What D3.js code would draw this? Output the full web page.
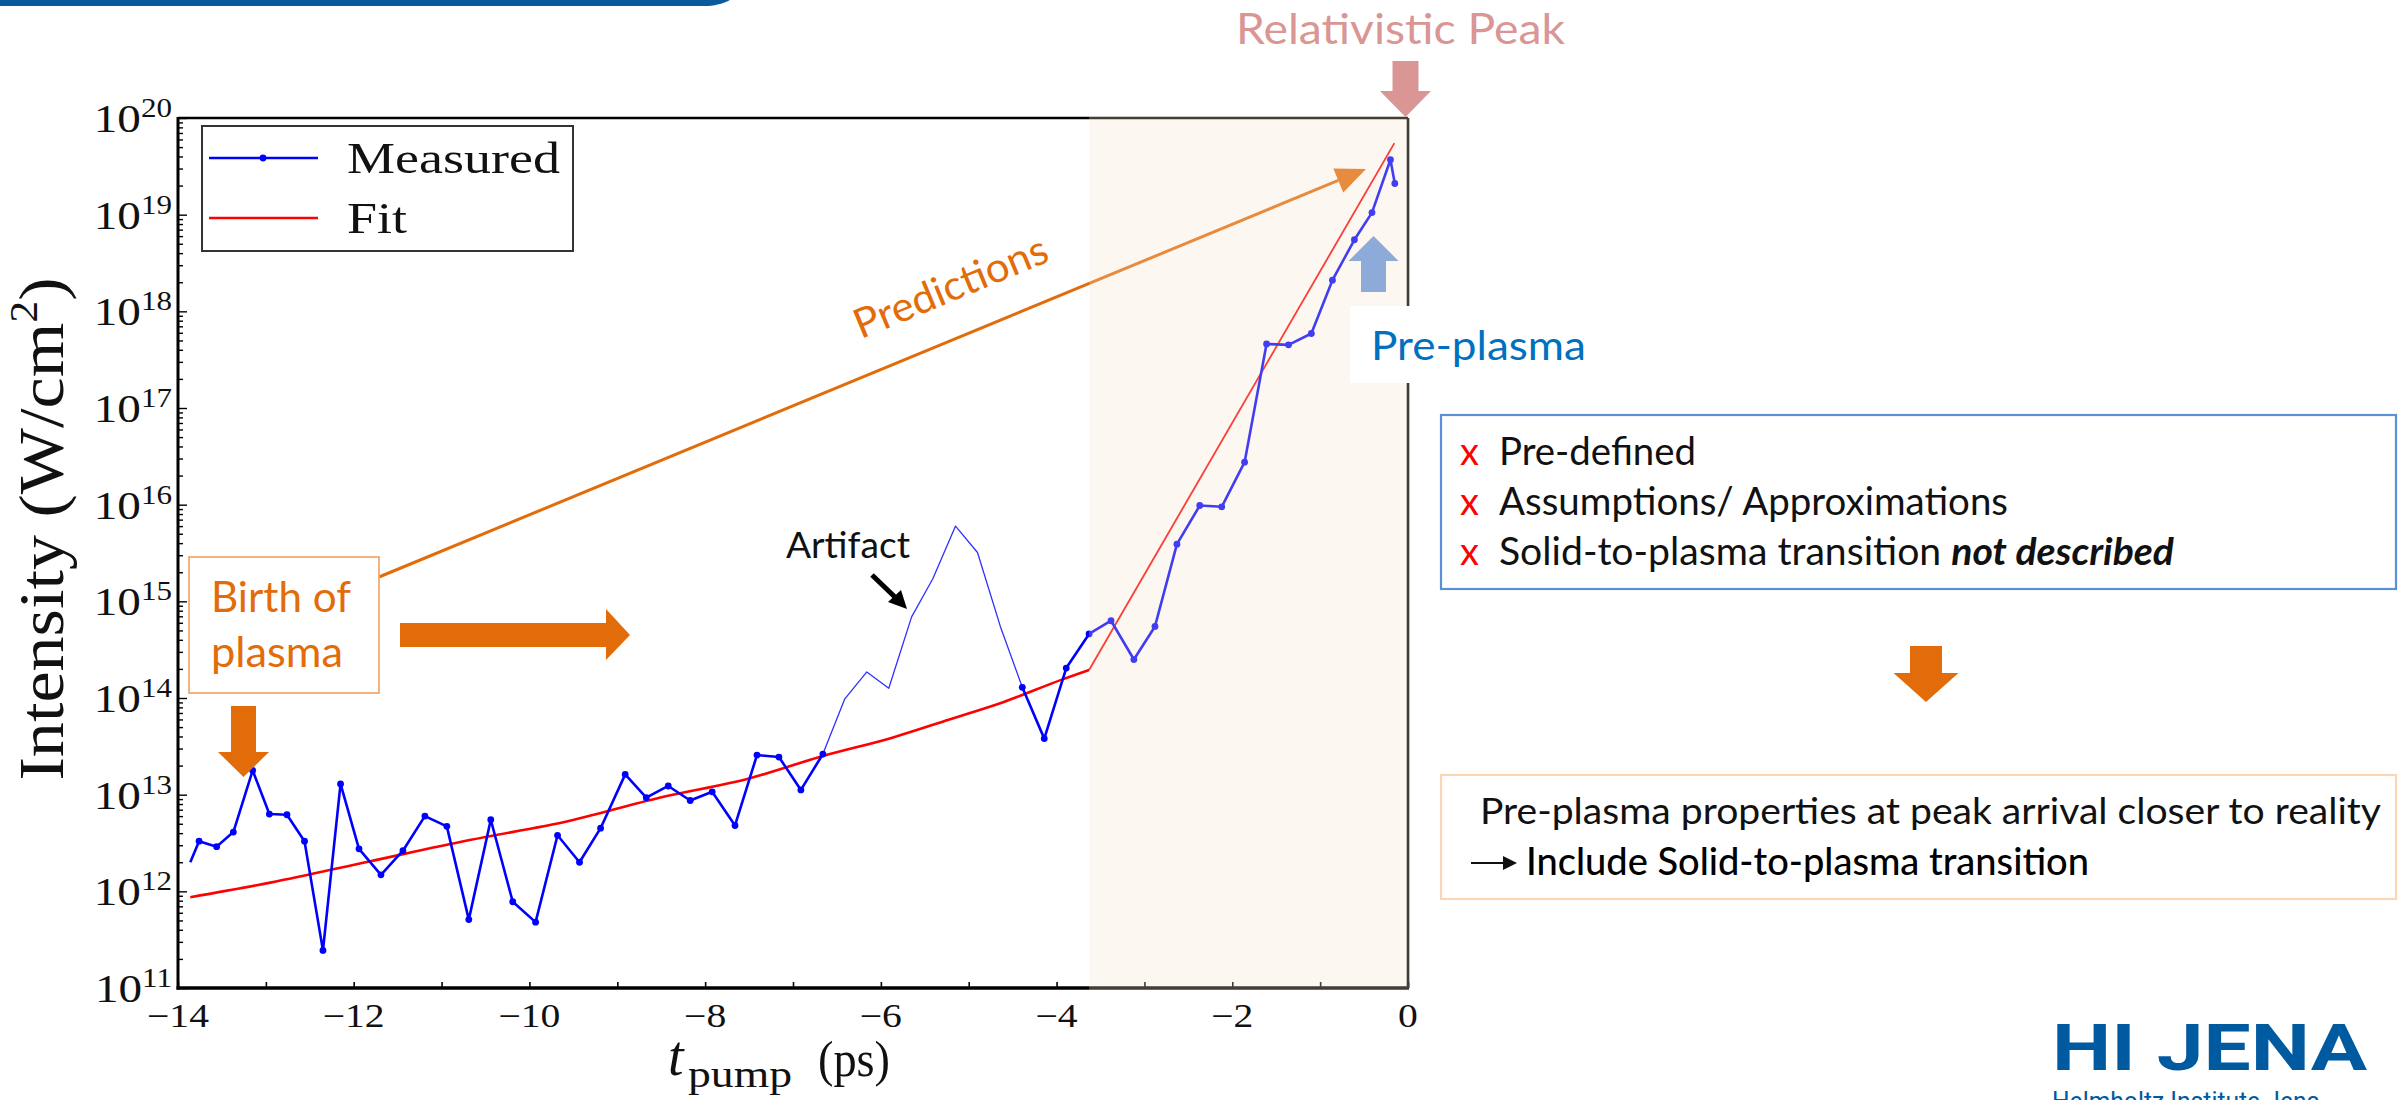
<!DOCTYPE html>
<html>
<head>
<meta charset="utf-8">
<script src="https://cdn.jsdelivr.net/npm/d3@7"></script>
<style>
  html, body { margin: 0; padding: 0; background: #ffffff; }
  svg { display: block; }
</style>
</head>
<body>
<svg id="chart" width="2399" height="1100"></svg>
<script>
// ---- Data -----------------------------------------------------------
// Pump delay (ps) and measured peak intensity (W/cm^2)
const measuredT = [-13.86, -13.76, -13.56, -13.37, -13.15, -12.96, -12.76, -12.56, -12.35, -12.15,
                   -11.94, -11.69, -11.44, -11.19, -10.94, -10.69, -10.44, -10.19, -9.93, -9.68,
                   -9.43, -9.19, -8.91, -8.67, -8.42, -8.17, -7.92, -7.66, -7.41, -7.16,
                   -6.91, -6.66, -6.41, -6.16, -5.91, -5.65, -5.41, -5.15, -4.90, -4.64,
                   -4.39, -4.14, -3.89, -3.63, -3.38, -3.12, -2.88, -2.63, -2.37, -2.12,
                   -1.86, -1.61, -1.36, -1.10, -0.86, -0.61, -0.41, -0.20, -0.15];
const measuredI = [2.0e12, 3.3e12, 2.9e12, 4.1e12, 1.78e13, 6.3e12, 6.2e12, 3.3e12, 2.45e11, 1.29e13,
                   2.75e12, 1.48e12, 2.63e12, 6.0e12, 4.7e12, 5.1e11, 5.5e12, 7.8e11, 4.8e11, 3.8e12,
                   2.0e12, 4.5e12, 1.62e13, 9.3e12, 1.23e13, 8.7e12, 1.07e13, 4.8e12, 2.57e13, 2.45e13,
                   1.12e13, 2.63e13, 9.8e13, 1.86e14, 1.26e14, 6.9e14, 1.7e15, 6.0e15, 3.2e15, 5.5e14,
                   1.29e14, 3.8e13, 2.04e14, 4.6e14, 6.3e14, 2.5e14, 5.5e14, 3.9e15, 9.8e15, 9.5e15,
                   2.75e16, 4.6e17, 4.5e17, 5.9e17, 2.1e18, 5.5e18, 1.05e19, 3.7e19, 2.1e19];
// Delay window of the artifact (drawn thin, without markers)
const artifactRange = [-6.66, -4.39];

// Fit: slow pre-plasma growth, then the steep rise to the peak
const fitLowT  = [-13.86, -12.95, -11.82, -10.68, -9.54, -8.52, -7.49, -6.66, -5.87, -5.22, -4.60, -3.94, -3.63];
const fitLowI  = [8.7e11, 1.23e12, 2.04e12, 3.39e12, 5.37e12, 9.3e12, 1.48e13, 2.51e13, 3.89e13, 6.0e13, 9.1e13, 1.55e14, 1.95e14];
const fitHighT = [-3.63, -0.155];
const fitHighI = [1.95e14, 5.5e19];

// Start of the shaded solid-to-plasma region (ps)
const shadeStart = -3.63;

// Axes
const xDomain = [-14, 0];
const xMajorTicks = [-14, -12, -10, -8, -6, -4, -2, 0];
const xMinorTicks = [-13, -11, -9, -7, -5, -3, -1];
const yExponents = [11, 12, 13, 14, 15, 16, 17, 18, 19, 20];
const legendLabels = ["Measured", "Fit"];

// Slide text
const criticisms = ["Pre-defined", "Assumptions/ Approximations", "Solid-to-plasma transition "];
const criticismEmphasis = "not described";
const conclusionLines = ["Pre-plasma properties at peak arrival closer to reality", "Include Solid-to-plasma transition"];

// ---- Setup ----------------------------------------------------------
const svg = d3.select("#chart");
const SERIF = "'Liberation Serif', 'DejaVu Serif', serif";
const SANS = "Lato, 'Open Sans', 'Noto Sans', sans-serif";
const plot = { left: 178, right: 1408, top: 118, bottom: 988 };

const x = d3.scaleLinear().domain(xDomain).range([plot.left, plot.right]);
const y = d3.scaleLog().domain([1e11, 1e20]).range([plot.bottom, plot.top]);

// widen serif glyphs a little, the figure text is set in a wide face
function widen(sel, k) {
  sel.each(function () {
    const w = this.getComputedTextLength();
    d3.select(this).attr("textLength", w * k).attr("lengthAdjust", "spacingAndGlyphs");
  });
}
function span(sel, w) {
  return sel.attr("textLength", w).attr("lengthAdjust", "spacingAndGlyphs");
}

svg.append("rect").attr("width", 2399).attr("height", 1100).attr("fill", "#ffffff");

// header rule
svg.append("path")
  .attr("d", "M0 0 H730 C722 4 714 6 704 6 H0 Z")
  .attr("fill", "#0b5a9c");

// ---- Axes -----------------------------------------------------------
const gx = svg.append("g").attr("transform", `translate(0,${plot.bottom})`);
gx.call(d3.axisBottom(x).tickValues(xMajorTicks.concat(xMinorTicks)).tickSizeInner(-6).tickSizeOuter(0).tickFormat(""));
gx.select(".domain").remove();
gx.selectAll(".tick line").attr("stroke", "#000").attr("stroke-width", 1.6);

const xLab = svg.append("g");
xMajorTicks.forEach(t => {
  xLab.append("text")
    .attr("x", x(t)).attr("y", 1027)
    .attr("text-anchor", "middle")
    .attr("font-family", SERIF).attr("font-size", 33)
    .attr("fill", "#111")
    .text(t < 0 ? "\u2212" + Math.abs(t) : String(t));
});
widen(xLab.selectAll("text"), 1.2);

const yTickVals = [];
yExponents.forEach(e => {
  yTickVals.push(Math.pow(10, e));
  if (e < 20) for (let m = 2; m <= 9; m++) yTickVals.push(m * Math.pow(10, e));
});
const gy = svg.append("g").attr("transform", `translate(${plot.left},0)`);
gy.call(d3.axisLeft(y).tickValues(yTickVals).tickSizeOuter(0).tickFormat(""));
gy.select(".domain").remove();
gy.selectAll(".tick line")
  .attr("x2", d => Math.abs(Math.log10(d) - Math.round(Math.log10(d))) < 1e-9 ? 9 : 5)
  .attr("stroke", "#000").attr("stroke-width", 1.4);

const yLab = svg.append("g");
yExponents.forEach(e => {
  const t = yLab.append("text")
    .attr("x", 172).attr("y", y(Math.pow(10, e)) + 14)
    .attr("text-anchor", "end")
    .attr("font-family", SERIF).attr("fill", "#111");
  t.append("tspan").attr("font-size", 41).text("10");
  t.append("tspan").attr("font-size", 27).attr("dy", -15).text(String(e));
});
widen(yLab.selectAll("text"), 1.15);

// axis titles
svg.append("text").attr("x", 668).attr("y", 1075)
  .attr("font-family", SERIF).attr("font-size", 56).attr("font-style", "italic").attr("fill", "#111").text("t");
const xtSub = svg.append("text").attr("x", 688).attr("y", 1087)
  .attr("font-family", SERIF).attr("font-size", 38).attr("fill", "#111").text("pump");
span(xtSub, 104);
const xtUnit = svg.append("text").attr("x", 818).attr("y", 1076)
  .attr("font-family", SERIF).attr("font-size", 50).attr("fill", "#111").text("(ps)");
span(xtUnit, 72);

const yt = svg.append("text")
  .attr("transform", "translate(63,529) rotate(-90)")
  .attr("text-anchor", "middle")
  .attr("font-family", SERIF).attr("font-size", 64).attr("fill", "#111");
yt.append("tspan").text("Intensity (W/cm");
yt.append("tspan").attr("font-size", 40).attr("dy", -26).text("2");
yt.append("tspan").attr("dy", 26).text(")");
yt.attr("textLength", 503).attr("lengthAdjust", "spacingAndGlyphs");

// ---- Series ---------------------------------------------------------
const line = d3.line().x(d => x(d[0])).y(d => y(d[1]));
const smooth = d3.line().x(d => x(d[0])).y(d => y(d[1])).curve(d3.curveMonotoneX);
const marks = svg.append("g");

const fitLow = fitLowT.map((t, i) => [t, fitLowI[i]]);
const fitHigh = fitHighT.map((t, i) => [t, fitHighI[i]]);
marks.append("path").datum(fitLow).attr("d", smooth)
  .attr("fill", "none").attr("stroke", "#ff0000").attr("stroke-width", 2.6);
marks.append("path").datum(fitHigh).attr("d", line)
  .attr("fill", "none").attr("stroke", "#ff0000").attr("stroke-width", 1.8);

const meas = measuredT.map((t, i) => [t, measuredI[i]]);
const inArtifact = t => t >= artifactRange[0] - 1e-9 && t <= artifactRange[1] + 1e-9;
// group consecutive segments by style
const runs = [];
for (let i = 0; i < meas.length - 1; i++) {
  const thin = inArtifact(meas[i][0]) && inArtifact(meas[i + 1][0]);
  const last = runs[runs.length - 1];
  if (last && last.thin === thin) last.pts.push(meas[i + 1]);
  else runs.push({ thin, pts: [meas[i], meas[i + 1]] });
}
runs.forEach(r => {
  marks.append("path").datum(r.pts).attr("d", line)
    .attr("fill", "none")
    .attr("stroke", r.thin ? "#3030ff" : "#0000ff")
    .attr("stroke-width", r.thin ? 1.3 : 2.6)
    .attr("stroke-linejoin", "round");
});
marks.selectAll("circle.pt")
  .data(meas.filter((d, i) => i > 0 && !(d[0] > artifactRange[0] + 1e-9 && d[0] < artifactRange[1] - 1e-9)))
  .join("circle").attr("class", "pt")
  .attr("cx", d => x(d[0])).attr("cy", d => y(d[1]))
  .attr("r", 3.4).attr("fill", "#0000ff");

// ---- Predictions arrow (under the shaded region) --------------------
const pred = svg.append("g");
const p0 = [379, 577], p1 = [1366, 169];
const ang = Math.atan2(p1[1] - p0[1], p1[0] - p0[0]);
const hb = [p1[0] - 30 * Math.cos(ang), p1[1] - 30 * Math.sin(ang)];
pred.append("line")
  .attr("x1", p0[0]).attr("y1", p0[1]).attr("x2", hb[0]).attr("y2", hb[1])
  .attr("stroke", "#e36c0a").attr("stroke-width", 3);
const nx = -Math.sin(ang), ny = Math.cos(ang);
pred.append("path")
  .attr("d", `M${p1[0]},${p1[1]} L${hb[0] + 13 * nx},${hb[1] + 13 * ny} L${hb[0] - 13 * nx},${hb[1] - 13 * ny} Z`)
  .attr("fill", "#e36c0a");
const predText = pred.append("text")
  .attr("transform", `translate(956,300) rotate(${ang * 180 / Math.PI})`)
  .attr("text-anchor", "middle")
  .attr("font-family", SANS).attr("font-size", 41).attr("fill", "#e36c0a")
  .text("Predictions");
span(predText, 206);

// ---- Frame ----------------------------------------------------------
const frame = svg.append("g").attr("stroke", "#000");
frame.append("line").attr("x1", plot.left).attr("x2", plot.left).attr("y1", plot.top - 1).attr("y2", plot.bottom + 1.5).attr("stroke-width", 3);
frame.append("line").attr("x1", plot.left - 1.5).attr("x2", plot.right + 1).attr("y1", plot.bottom).attr("y2", plot.bottom).attr("stroke-width", 3.5);
frame.append("line").attr("x1", plot.left).attr("x2", plot.right).attr("y1", plot.top).attr("y2", plot.top).attr("stroke-width", 2.6);
frame.append("line").attr("x1", plot.right).attr("x2", plot.right).attr("y1", plot.top).attr("y2", plot.bottom).attr("stroke-width", 2.6);

// shaded solid-to-plasma region
svg.append("rect")
  .attr("x", x(shadeStart)).attr("y", plot.top - 2)
  .attr("width", x(0) - x(shadeStart) + 1.5).attr("height", plot.bottom - plot.top + 4)
  .attr("fill", "rgb(244,225,203)").attr("fill-opacity", 0.27);

// ---- Legend ---------------------------------------------------------
const lg = svg.append("g");
lg.append("rect").attr("x", 202).attr("y", 126).attr("width", 371).attr("height", 125)
  .attr("fill", "#fff").attr("stroke", "#333").attr("stroke-width", 2);
lg.append("line").attr("x1", 209).attr("x2", 318).attr("y1", 158).attr("y2", 158)
  .attr("stroke", "#0000ff").attr("stroke-width", 2.6);
lg.append("circle").attr("cx", 263).attr("cy", 158).attr("r", 3.4).attr("fill", "#0000ff");
lg.append("line").attr("x1", 209).attr("x2", 318).attr("y1", 218).attr("y2", 218)
  .attr("stroke", "#ff0000").attr("stroke-width", 2.6);
const lt = lg.selectAll("text.lab").data(legendLabels).join("text").attr("class", "lab")
  .attr("x", 347).attr("y", (d, i) => 173 + i * 60)
  .attr("font-family", SERIF).attr("font-size", 45).attr("fill", "#111")
  .text(d => d);
widen(lt, 1.2);

// ---- Annotations ----------------------------------------------------
function blockArrowDown(cx, top, shaftW, headY, headW, tipY, color) {
  const s = shaftW / 2, h = headW / 2;
  return svg.append("path")
    .attr("d", `M${cx - s},${top} H${cx + s} V${headY} H${cx + h} L${cx},${tipY} L${cx - h},${headY} H${cx - s} Z`)
    .attr("fill", color);
}
function blockArrowUp(cx, bottom, shaftW, headY, headW, tipY, color) {
  const s = shaftW / 2, h = headW / 2;
  return svg.append("path")
    .attr("d", `M${cx - s},${bottom} H${cx + s} V${headY} H${cx + h} L${cx},${tipY} L${cx - h},${headY} H${cx - s} Z`)
    .attr("fill", color);
}

// Birth of plasma
svg.append("rect").attr("x", 189).attr("y", 557).attr("width", 190).attr("height", 136)
  .attr("fill", "#fff").attr("stroke", "#f0a060").attr("stroke-width", 1.6);
span(svg.append("text").attr("x", 211).attr("y", 612)
  .attr("font-family", SANS).attr("font-size", 43).attr("fill", "#e36c0a").text("Birth of"), 140);
span(svg.append("text").attr("x", 211).attr("y", 667)
  .attr("font-family", SANS).attr("font-size", 43).attr("fill", "#e36c0a").text("plasma"), 132);
blockArrowDown(243.5, 706, 25, 752, 51, 777, "#e36c0a");
svg.append("path")
  .attr("d", "M400,623 H606 V609 L630,635 L606,660 V647 H400 Z")
  .attr("fill", "#e36c0a");

// Artifact
span(svg.append("text").attr("x", 786).attr("y", 558)
  .attr("font-family", SANS).attr("font-size", 37).attr("fill", "#111").text("Artifact"), 124);
svg.append("line").attr("x1", 872).attr("y1", 575).attr("x2", 897).attr("y2", 599)
  .attr("stroke", "#000").attr("stroke-width", 5);
svg.append("path").attr("d", "M907,609 L888,602 L901,590 Z").attr("fill", "#000");

// Relativistic Peak
span(svg.append("text").attr("x", 1236).attr("y", 44)
  .attr("font-family", SANS).attr("font-size", 43).attr("fill", "#d99694").text("Relativistic Peak"), 329);
blockArrowDown(1405.5, 61, 26, 91, 51, 117, "#d99694");

// Pre-plasma
svg.append("rect").attr("x", 1350).attr("y", 306).attr("width", 250).attr("height", 77).attr("fill", "#fff");
span(svg.append("text").attr("x", 1371).attr("y", 360)
  .attr("font-family", SANS).attr("font-size", 41).attr("fill", "#0070c0").text("Pre-plasma"), 215);
blockArrowUp(1373.5, 292, 25, 261, 50, 236, "#8eaad8");

// ---- Right panel ----------------------------------------------------
svg.append("rect").attr("x", 1441).attr("y", 415).attr("width", 955).attr("height", 174)
  .attr("fill", "#fff").attr("stroke", "#5b8fd6").attr("stroke-width", 2.2);
const critWidths = [197, 509, 675];
criticisms.forEach((c, i) => {
  const by = 465 + i * 50;
  svg.append("text").attr("x", 1460).attr("y", by)
    .attr("font-family", SANS).attr("font-size", 38).attr("fill", "#ff0000").text("x");
  const t = svg.append("text").attr("x", 1499).attr("y", by)
    .attr("font-family", SANS).attr("font-size", 38).attr("fill", "#111");
  t.append("tspan").text(c);
  if (i === criticisms.length - 1) {
    t.append("tspan").attr("font-weight", "bold").attr("font-style", "italic").text(criticismEmphasis);
  }
  span(t, critWidths[i]);
});

blockArrowDown(1926, 646, 32, 673, 65, 702, "#e36c0a");

svg.append("rect").attr("x", 1441).attr("y", 775).attr("width", 955).attr("height", 124)
  .attr("fill", "#fff").attr("stroke", "#fcd5b5").attr("stroke-width", 2.2);
span(svg.append("text").attr("x", 1480).attr("y", 824)
  .attr("font-family", SANS).attr("font-size", 37).attr("fill", "#111").text(conclusionLines[0]), 901);
svg.append("line").attr("x1", 1471).attr("x2", 1506).attr("y1", 863).attr("y2", 863)
  .attr("stroke", "#111").attr("stroke-width", 2.2);
svg.append("path").attr("d", "M1517,863 L1503,856 L1503,870 Z").attr("fill", "#111");
span(svg.append("text").attr("x", 1526).attr("y", 875)
  .attr("font-family", SANS).attr("font-size", 38).attr("font-weight", 500).attr("fill", "#000").text(conclusionLines[1]), 563);

// ---- Logo -----------------------------------------------------------
svg.append("text").attr("x", 2052).attr("y", 1070)
  .attr("font-family", "Roboto, 'Liberation Sans', sans-serif").attr("font-weight", "bold")
  .attr("font-size", 64).attr("fill", "#005aa0")
  .attr("textLength", 315).attr("lengthAdjust", "spacingAndGlyphs")
  .text("HI JENA");
svg.append("text").attr("x", 2052).attr("y", 1110)
  .attr("font-family", "Roboto, 'Liberation Sans', sans-serif")
  .attr("font-size", 25).attr("fill", "#005aa0")
  .attr("textLength", 268).attr("lengthAdjust", "spacingAndGlyphs")
  .text("Helmholtz Institute Jena");
</script>
</body>
</html>
